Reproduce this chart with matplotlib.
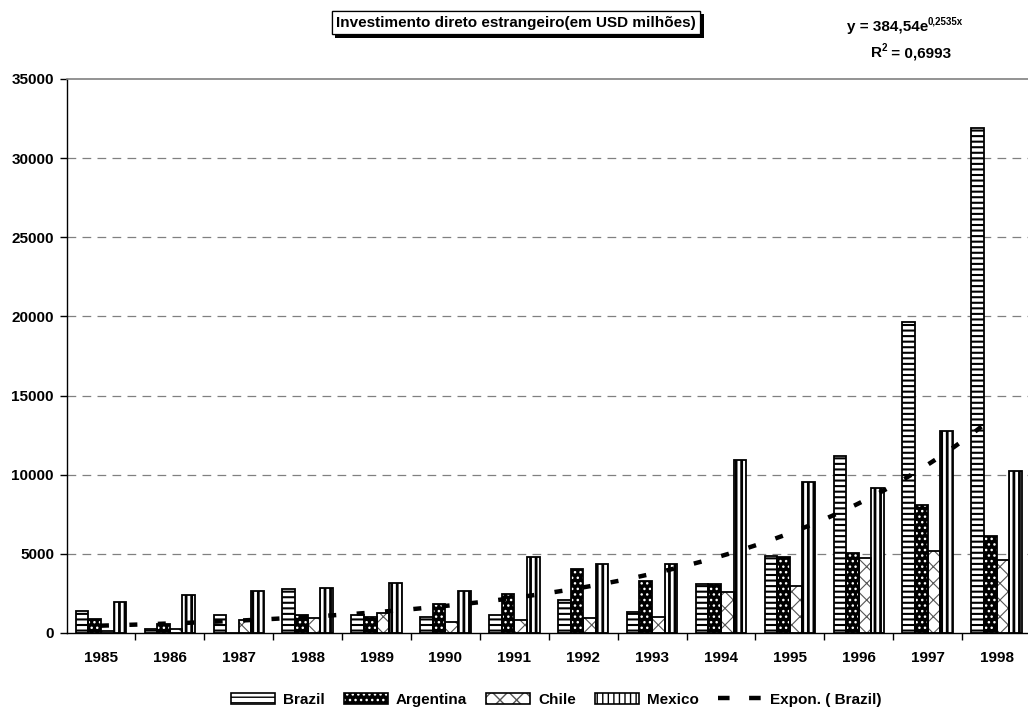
import matplotlib as mpl
mpl.use('Agg')
import matplotlib.pyplot as plt
import matplotlib.patheffects as pe
from matplotlib.patches import Patch
from matplotlib.lines import Line2D
from matplotlib.legend_handler import HandlerTuple
import numpy as np

years = ['1985', '1986', '1987', '1988', '1989', '1990', '1991',
         '1992', '1993', '1994', '1995', '1996', '1997', '1998']
brazil = [1390, 270, 1150, 2770, 1110, 1010, 1135, 2080, 1320, 3090, 4850, 11170, 19650, 31900]
argentina = [860, 570, 20, 1150, 1010, 1850, 2450, 4030, 3280, 3100, 4790, 5080, 8070, 6150]
chile = [130, 280, 840, 950, 1260, 690, 840, 920, 1030, 2600, 2980, 4720, 5190, 4600]
mexico = [1930, 2370, 2630, 2860, 3190, 2630, 4770, 4370, 4390, 10940, 9510, 9180, 12790, 10230]
series_names = ['Brazil', 'Argentina', 'Chile', 'Mexico']
trend_label = 'Expon. ( Brazil)'
title = 'Investimento direto estrangeiro(em USD milhões)'
eq_main, eq_sup = 'y = 384,54e', '0,2535x'
r2_main, r2_sup, r2_rest = 'R', '2', ' = 0,6993'
yticks = [0, 5000, 10000, 15000, 20000, 25000, 30000, 35000]

plt.rcParams['font.family'] = ['Liberation Sans', 'DejaVu Sans']
plt.rcParams['font.weight'] = 'bold'

fig = plt.figure(figsize=(10.28, 7.11), dpi=100)
ax = fig.add_axes([66.5 / 1028, 78 / 711, (1031 - 66.5) / 1028, (633 - 79) / 711])

x = np.arange(len(years))
w = 0.183
offs = [-1.5 * w, -0.5 * w, 0.5 * w, 1.5 * w]


def hatched_bars(xpos, vals, face, hcolor, hatch, hlw, zorder=2):
    with mpl.rc_context({'hatch.linewidth': hlw}):
        bars = ax.bar(xpos, vals, w, color=face, edgecolor=hcolor, hatch=hatch,
                      linewidth=0, zorder=zorder)
        for b in bars:
            if hasattr(b, 'set_hatch_linewidth'):
                b.set_hatch_linewidth(hlw)
    ax.bar(xpos, vals, w, fill=False, edgecolor='black', linewidth=1.3, zorder=zorder + 0.1)


hatched_bars(x + offs[0], brazil, 'white', 'black', '---', 1.5)
hatched_bars(x + offs[1], argentina, 'black', 'white', '...', 1.0)
hatched_bars(x + offs[2], chile, 'white', '#555555', 'xx', 0.8)
hatched_bars(x + offs[3], mexico, 'white', 'black', '|||', 2.0)

# exponential trendline fitted on Brazil series (x = 1..n as in Excel)
xf = np.arange(1, len(brazil) + 1)
b_coef, ln_a = np.polyfit(xf, np.log(brazil), 1)
xs = np.linspace(1, len(brazil), 300)
ax.plot(xs - 1, np.exp(ln_a) * np.exp(b_coef * xs), color='black', lw=3.2,
        linestyle=(0, (1.8, 4.6)), dash_capstyle='butt', zorder=5)

ax.set_xlim(-0.5, len(years) - 0.5)
ax.set_ylim(0, 35000)
ax.set_yticks(yticks)
ax.set_yticklabels([str(v) for v in yticks])
ax.set_xticks(x)
ax.set_xticklabels(years)
ax.set_xticks(np.arange(0.5, len(years) - 0.5, 1), minor=True)
ax.tick_params(axis='x', which='major', length=0, pad=13, labelsize=11)
ax.tick_params(axis='x', which='minor', length=5, width=1, direction='out')
ax.tick_params(axis='y', length=5, width=1, direction='out', pad=4, labelsize=11)
for lab in ax.get_xticklabels() + ax.get_yticklabels():
    lab.set_fontweight('bold')

for v in yticks[1:-1]:
    ax.axhline(v, color='#808080', lw=0.9, linestyle=(0, (7, 5)), zorder=0)
ax.spines['right'].set_visible(False)
ax.spines['top'].set_color('#808080')
ax.spines['top'].set_linewidth(1.2)
ax.spines['left'].set_linewidth(1.0)
ax.spines['bottom'].set_linewidth(1.0)

t = fig.text(516 / 1028, 1 - 22.5 / 711, title, ha='center', va='center', fontsize=11,
             fontweight='bold',
             bbox=dict(boxstyle='square,pad=0.3', facecolor='white', edgecolor='black', lw=0.9))
t.get_bbox_patch().set_path_effects([pe.withSimplePatchShadow(offset=(2.5, -2.5),
                                                              shadow_rgbFace='black', alpha=1.0),
                                     pe.Normal()])

# trendline equation and R^2 (superscripts placed after measuring text)
renderer = fig.canvas.get_renderer()


def sup_text(xc, yc, main, sup, rest='', size=11, sup_size=7):
    parts = [fig.text(0, yc, main, ha='left', va='center', fontsize=size, fontweight='bold'),
             fig.text(0, yc + 5 / 711, sup, ha='left', va='center', fontsize=sup_size, fontweight='bold')]
    if rest:
        parts.append(fig.text(0, yc, rest, ha='left', va='center', fontsize=size, fontweight='bold'))
    widths = [p.get_window_extent(renderer).width / 1028 for p in parts]
    x0 = xc - sum(widths) / 2
    for p, wd in zip(parts, widths):
        p.set_x(x0)
        x0 += wd


sup_text(905 / 1028, 1 - 27 / 711, eq_main, eq_sup)
sup_text(911 / 1028, 1 - 53 / 711, r2_main, r2_sup, r2_rest)

# legend
h_br = Patch(facecolor='white', edgecolor='black', hatch='---', linewidth=1.2)
h_ar = (Patch(facecolor='black', edgecolor='white', hatch='...', linewidth=0),
        Patch(fill=False, edgecolor='black', linewidth=1.2))
h_ch = (Patch(facecolor='white', edgecolor='#555555', hatch='xx', linewidth=0),
        Patch(fill=False, edgecolor='black', linewidth=1.2))
h_mx = Patch(facecolor='white', edgecolor='black', hatch='|||', linewidth=1.2)
h_tr = Line2D([0], [0], color='black', lw=3.2, linestyle=(0, (2.6, 4.4)), dash_capstyle='butt')
leg = fig.legend([h_br, h_ar, h_ch, h_mx, h_tr], series_names + [trend_label],
                 loc='center', bbox_to_anchor=(556 / 1028, 0.016), ncol=5, frameon=False,
                 handlelength=2.9, handleheight=0.72, handletextpad=0.5, columnspacing=1.25,
                 prop={'weight': 'bold', 'size': 11},
                 handler_map={tuple: HandlerTuple(ndivide=1, pad=0)})

fig.savefig('out.png', dpi=100)
